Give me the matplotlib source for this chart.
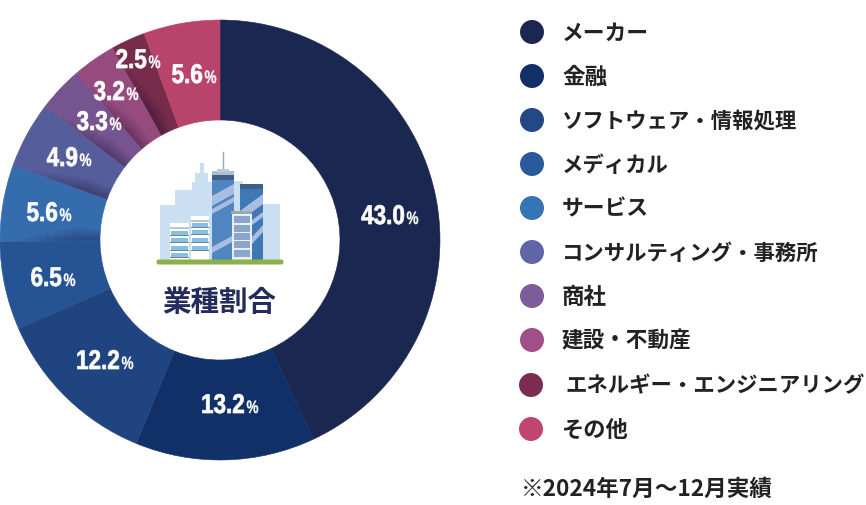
import numpy as np
import matplotlib
matplotlib.use("Agg")
import matplotlib.pyplot as plt
from matplotlib.patches import Circle, Rectangle, Polygon, Wedge, FancyBboxPatch
from matplotlib.patheffects import AbstractPathEffect
from matplotlib.transforms import Affine2D

categories = ["メーカー", "金融", "ソフトウェア・情報処理", "メディカル", "サービス",
              "コンサルティング・事務所", "商社", "建設・不動産", "エネルギー・エンジニアリング", "その他"]
shares = [43.0, 13.2, 12.2, 6.5, 5.6, 4.9, 3.3, 3.2, 2.5, 5.6]
wedge_colors = ["#1a2750", "#123068", "#1f4480", "#265393", "#356cad",
                "#555d9b", "#75548f", "#964b7e", "#772c4b", "#b8446c"]
legend_colors = ["#1a2750", "#123068", "#234884", "#2a5a9c", "#3574b5",
                 "#5f65a6", "#7c5c9b", "#a04f88", "#7c2c50", "#c0456f"]
center_title = "業種割合"
footnote = "※2024年7月〜12月実績"

W, H = 866, 505
CJK = ["Noto Sans CJK JP", "DejaVu Sans"]
LATIN = "Liberation Sans"

fig = plt.figure(figsize=(W / 100, H / 100), dpi=100)
ax = fig.add_axes([0, 0, 1, 1])


def Y(py):
    return H - py


CX, CY, R, R_IN = 220, Y(240), 220, 120

wedges, _ = ax.pie(shares, colors=wedge_colors, startangle=90, counterclock=False,
                   center=(CX, CY), radius=R, frame=True,
                   wedgeprops=dict(width=R - R_IN, linewidth=0.4))
for w, c in zip(wedges, wedge_colors):
    w.set_edgecolor(c)
ax.set_xlim(0, W)
ax.set_ylim(0, H)
ax.set_aspect("equal")
ax.axis("off")

# soft shadow on the clockwise-start side of the small segments
for w in wedges[4:9]:
    edge = w.theta2
    steps = 7
    for k in range(1, steps + 1):
        reach = (R - R_IN) * (1 - (k - 1) / steps * 0.75) * 0.8
        ang = 3.5 * k / steps * 150 / (R_IN + reach / 2) * 1.4
        ax.add_patch(Wedge((CX, CY), R_IN + reach, edge - ang, edge,
                           width=reach, fc="#14102e", ec="none", alpha=0.055, zorder=3))


class Squeeze(AbstractPathEffect):
    """Draw real text horizontally condensed about its anchor, slightly emboldened."""

    def __init__(self, x_px, factor, bold=0.0):
        super().__init__()
        self.x_px, self.factor, self.bold = x_px, factor, bold

    def draw_path(self, renderer, gc, tpath, affine, rgbFace=None):
        squeeze = Affine2D().translate(-self.x_px, 0).scale(self.factor, 1).translate(self.x_px, 0)
        g = renderer.new_gc()
        g.copy_properties(gc)
        g.set_foreground("white")
        g.set_linewidth(self.bold)
        renderer.draw_path(g, tpath, affine + squeeze, rgbFace)
        g.restore()


# percentage labels (layout only; the values come from shares)
label_xy = [(405, 215), (245, 404), (120, 360), (62, 277), (58, 212),
            (78, 157), (108, 121), (125, 91), (147, 59), (203, 74)]
for val, (x, py) in zip(shares, label_xy):
    px = ax.transData.transform((x, 0))[0]
    t = ax.text(x, Y(py + 9), f"{val:.1f}", family=LATIN, weight="bold", fontsize=19.5,
                color="white", ha="right", va="baseline", zorder=5)
    t.set_path_effects([Squeeze(px, 0.83, 0.5)])
    px2 = ax.transData.transform((x + 1.5, 0))[0]
    t2 = ax.text(x + 1.5, Y(py + 9), "%", family=LATIN, weight="bold", fontsize=13,
                 color="white", ha="left", va="baseline", zorder=5)
    t2.set_path_effects([Squeeze(px2, 0.75, 0.2)])

# legend
legend_y = [32, 76, 120, 164, 208, 252, 296, 340, 385, 429]
legend_cx = [532, 532, 532, 532, 532, 532, 532, 532, 531, 531]
legend_x = [562, 562, 562, 562, 562, 562, 562, 562, 565, 561]
legend_size = [15.7, 16.2, 15.4, 15.4, 15.7, 15.4, 16.2, 15.6, 15.4, 16.0]
for name, col, py, cx, tx, fs in zip(categories, legend_colors, legend_y, legend_cx, legend_x, legend_size):
    ax.add_patch(Circle((cx, Y(py)), 12, fc=col, ec="none"))
    ax.text(tx, Y(py + 1), name, family=CJK, weight="bold", fontsize=fs,
            color="#222222", ha="left", va="center")

ax.text(521, Y(489), footnote, family=CJK, weight="bold", fontsize=16.3,
        color="#222222", ha="left", va="center")
ax.text(219.5, Y(302.5), center_title, family=CJK, weight="bold", fontsize=20.5,
        color="#232c5c", ha="center", va="center")


# building illustration
def rect(x0, y0, x1, y1, c, z=6):
    ax.add_patch(Rectangle((x0, Y(y1)), x1 - x0, y1 - y0, fc=c, ec="none", zorder=z))


def poly(pts, c, z=7):
    ax.add_patch(Polygon([(x, Y(y)) for x, y in pts], fc=c, ec="none", zorder=z))


LIGHT = "#cadff2"
rect(160, 205, 175, 260, LIGHT)
rect(175, 190, 192, 260, LIGHT)
rect(192, 182, 212, 260, LIGHT)
rect(195, 173, 208, 182, LIGHT)
rect(200, 163, 204, 173, LIGHT)
rect(234, 181, 243, 260, LIGHT)
rect(263, 204, 280, 260, LIGHT)

# tall tower
rect(212, 175, 234, 260, "#4f86c2")
rect(212, 172, 234, 180, "#3f5f86", 7)
rect(212, 171, 234, 175, "#a9bfcd", 8)
rect(217, 169, 229, 172, "#b9ccd8", 8)
ax.plot([222.7, 222.7], [Y(152), Y(170)], color="#93a9b8", lw=1, zorder=7)
for a, b in [(193, 203), (206, 211), (244, 250)]:
    poly([(212, a + 3), (234, a - 9), (234, b - 9), (212, b + 3)], "#a8bde0")
# second tower
rect(240, 184, 263, 260, "#3f78b4")
rect(240, 184, 263, 189, "#3f5f86", 7)
poly([(240, 211), (263, 194), (263, 204), (240, 221)], "#a8bde0")
poly([(240, 229), (263, 212), (263, 217), (240, 234)], "#a8bde0")
poly([(252, 237), (263, 225), (263, 232), (252, 244)], "#a8bde0")
# grey block
rect(232, 212, 252, 260, "#e9edf4", 8)
rect(231, 211, 252, 214, "#9fa7ae", 9)
for y0 in (216, 225, 233, 241, 250):
    rect(234, y0, 250, y0 + 7, "#8ba6cc", 9)
# low white blocks
for x0, x1, top, rows in [(170, 189, 223, (233, 240, 248, 255)),
                          (191, 209, 216, (225, 232, 240, 248))]:
    rect(x0, top, x1, 260, "white", 8)
    rect(x0, top + 4, x1, top + 5.5, "#b8c7d2", 9)
    for y0 in rows:
        rect(x0 + 1, y0 - 2, x1 - 1, y0 + 2, "#86c0e2", 9)
        rect(x0, y0 + 2, x1, y0 + 3, "#6f8494", 9)
ax.add_patch(FancyBboxPatch((158, Y(263)), 124, 2, boxstyle="round,pad=1.5,rounding_size=2",
                            fc="#8db04c", ec="none", zorder=10))

fig.savefig("out.png", dpi=100, facecolor="white")
